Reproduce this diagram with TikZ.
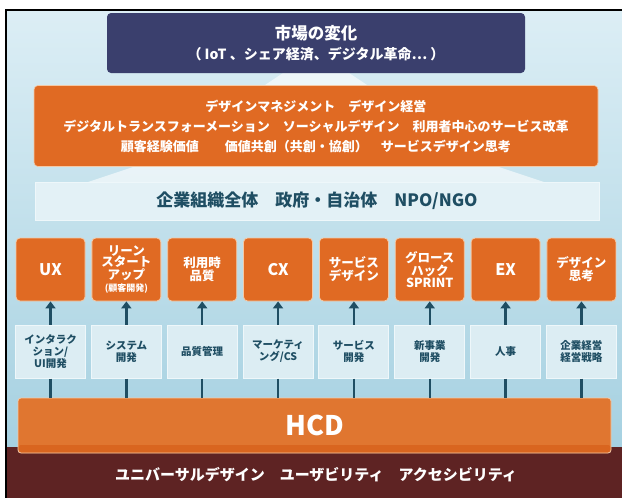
\documentclass[tikz,border=0pt]{standalone}
\usepackage{fontspec}
\setmainfont{Noto Sans CJK JP}
\usetikzlibrary{arrows.meta}
\definecolor{bgtop}{HTML}{DCEEF5}
\definecolor{bgbot}{HTML}{A6D1E1}
\definecolor{bandred}{HTML}{5E2323}
\definecolor{navyc}{HTML}{3A3F6D}
\definecolor{orangec}{HTML}{E06A23}
\definecolor{orangeline}{HTML}{F4C9A6}
\definecolor{hcdc}{HTML}{E07630}
\definecolor{hcddark}{HTML}{D9651F}
\definecolor{lightc}{HTML}{DCEDF3}
\definecolor{lightline}{HTML}{EEF7FA}
\definecolor{bannerc}{HTML}{E3F1F6}
\definecolor{tealc}{HTML}{1F4E63}
\tikzset{
  navybox/.style={fill=navyc, rounded corners=4pt, text=white, align=center, inner sep=0pt},
  bigorange/.style={fill=orangec, draw=orangeline, line width=0.6pt, rounded corners=4pt, text=white, align=center, inner sep=0pt},
  bannerbox/.style={fill=bannerc, draw=lightline, line width=1pt, text=tealc, align=center, inner sep=0pt},
  obox/.style={fill=orangec, draw=orangeline, line width=0.8pt, rounded corners=4pt, minimum width=69pt, minimum height=63pt, inner sep=0pt, align=center, text=white, font=\bfseries\fontsize{12.5}{11.5}\selectfont},
  lbox/.style={fill=lightc, draw=lightline, line width=1pt, minimum width=70pt, minimum height=53pt, inner sep=0pt, align=center, text=tealc, font=\bfseries\fontsize{10.5}{12}\selectfont},
  conn/.style={draw=tealc, line width=2.4pt},
  uparrow/.style={conn, -{Triangle[width=10pt,length=7pt]}},
  glow/.style={fill=white, opacity=0.6}
}
\begin{document}
\begin{tikzpicture}[x=1pt,y=-1pt]
\useasboundingbox (0,0) rectangle (622,498);
\fill[white] (0,0) rectangle (622,498);
\shade[top color=bgtop, bottom color=bgbot] (6,10) rectangle (622,447);
\fill[bandred] (6,447) rectangle (622,498);
\draw[line width=2pt] (6,498) -- (6,10) -- (622,10);
% glows
\fill[glow] (283,73) -- (349,73) -- (367,85) -- (265,85) -- cycle;
\fill[glow] (136,166) -- (496,166) -- (544,182) -- (88,182) -- cycle;
% top box
\node[navybox, minimum width=418pt, minimum height=60pt, font=\bfseries\fontsize{14}{20}\selectfont] (mkt) at (316,43)
  {{\fontsize{16.5}{20}\selectfont 市場の変化}\\（ IoT 、シェア経済、デジタル革命… ）};
% big orange
\node[bigorange, minimum width=564pt, minimum height=81pt, font=\bfseries\fontsize{13}{20}\selectfont] (trend) at (316,126)
  {デザインマネジメント　デザイン経営\\デジタルトランスフォーメーション　ソーシャルデザイン　利用者中心のサービス改革\\顧客経験価値　　価値共創（共創・協創）　サービスデザイン思考};
% banner
\node[bannerbox, minimum width=564pt, minimum height=38pt, font=\bfseries\fontsize{17}{20}\selectfont] (org) at (317,201)
  {企業組織全体　政府・自治体　NPO/NGO};
% orange small boxes
\node[obox, font=\bfseries\fontsize{16}{16}\selectfont] (o1) at (50.5,269.5) {UX};
\node[obox] (o2) at (126.35,269.5) {リーン\\スタート\\アップ\\[1pt]{\fontsize{9}{10}\selectfont (顧客開発)}};
\node[obox] (o3) at (202.2,269.5) {利用時\\品質};
\node[obox, font=\bfseries\fontsize{16}{16}\selectfont] (o4) at (278.05,269.5) {CX};
\node[obox] (o5) at (353.9,269.5) {サービス\\デザイン};
\node[obox] (o6) at (429.75,269.5) {グロース\\ハック\\SPRINT};
\node[obox, font=\bfseries\fontsize{16}{16}\selectfont] (o7) at (505.6,269.5) {EX};
\node[obox] (o8) at (581.45,269.5) {デザイン\\思考};
% light boxes
\node[lbox] (l1) at (50.5,351.5) {インタラク\\ション/\\UI開発};
\node[lbox] (l2) at (126.35,351.5) {システム\\開発};
\node[lbox] (l3) at (202.2,351.5) {品質管理};
\node[lbox] (l4) at (278.05,351.5) {マーケティ\\ング/CS};
\node[lbox] (l5) at (353.9,351.5) {サービス\\開発};
\node[lbox] (l6) at (429.75,351.5) {新事業\\開発};
\node[lbox] (l7) at (505.6,351.5) {人事};
\node[lbox] (l8) at (581.45,351.5) {企業経営\\経営戦略};
% HCD
\node[fill=hcdc, draw=orangeline, line width=0.8pt, rounded corners=3pt, minimum width=593pt, minimum height=55pt, inner sep=0pt,
  text=white, font=\bfseries\fontsize{27}{28}\selectfont,
  path picture={\fill[hcddark] (path picture bounding box.south west) rectangle ([yshift=8pt]path picture bounding box.south east);}]
  (hcd) at (314.5,425.5) {HCD};
% bottom text
\node[text=white, font=\bfseries\fontsize{15}{18}\selectfont, inner sep=0pt] (base) at (316,475)
  {ユニバーサルデザイン　ユーザビリティ　アクセシビリティ};
% connectors
\foreach \i in {1,...,8}{
  \draw[uparrow] (l\i.north) -- (o\i.south);
  \draw[conn] (l\i.south) -- (l\i.south |- hcd.north);
}
\end{tikzpicture}
\end{document}
